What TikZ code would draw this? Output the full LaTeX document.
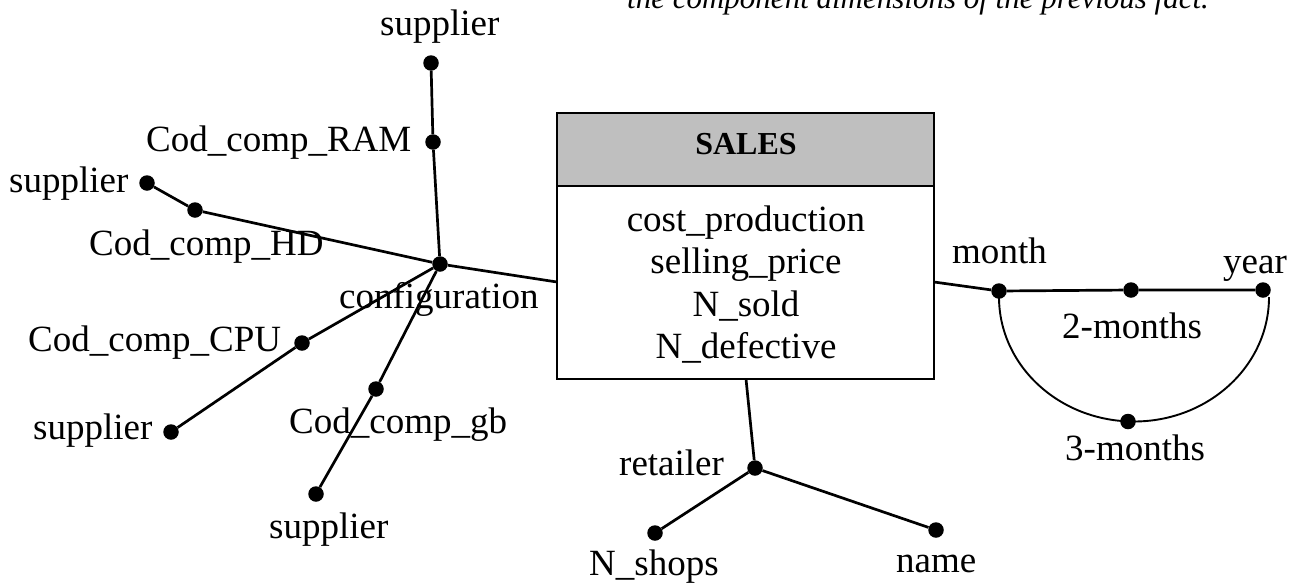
\documentclass[tikz,border=0pt]{standalone}
\usepackage{fontspec}
\setmainfont{Liberation Serif}
\begin{document}
\begin{tikzpicture}[x=1pt,y=-1pt,
  dot/.style={circle,fill=black,inner sep=0pt,minimum size=15.5pt},
  lbl/.style={inner sep=0pt,anchor=base west,font=\fontsize{37}{42}\selectfont},
  attr/.style={inner sep=0pt,anchor=base,font=\fontsize{37}{42}\selectfont},
  conn/.style={line width=2.7pt},
  arcline/.style={line width=1.9pt}]
\useasboundingbox (0,0) rectangle (1303,584);

% cut-off note at the top
\node[inner sep=0pt,anchor=base west,font=\itshape\fontsize{31}{36}\selectfont] (note) at (627,8.5) {the component dimensions of the previous fact.};

% fact box
\node[inner sep=0pt,minimum width=377pt,minimum height=266pt] (sales) at (745.5,246) {};
\fill[fill=black!25] (557,113) rectangle (934,186);
\draw[line width=2pt] (557,113) rectangle (934,379);
\draw[line width=2pt] (557,186) -- (934,186);
\node[inner sep=0pt,anchor=base,font=\bfseries\fontsize{32}{36}\selectfont] (title) at (746,154) {SALES};
\node[attr] (m1) at (746,231) {cost\_production};
\node[attr] (m2) at (746,273) {selling\_price};
\node[attr] (m3) at (746,316) {N\_sold};
\node[attr] (m4) at (746,358) {N\_defective};

\coordinate (sW) at (557,282);
\coordinate (sE) at (934,282);
\coordinate (sS) at (746,379);

% configuration hierarchy
\node[dot] (config) at (440,264) {};
\node[dot] (ram) at (433,142) {};
\node[dot] (sup1) at (431,63) {};
\node[dot] (hd) at (195,210) {};
\node[dot] (sup2) at (147,183) {};
\node[dot] (cpu) at (302,343) {};
\node[dot] (sup3) at (171,432) {};
\node[dot] (gb) at (376,389) {};
\node[dot] (sup4) at (316,494) {};

\draw[conn] (sW) -- (config);
\draw[conn] (config) -- (ram) -- (sup1);
\draw[conn] (config) -- (hd) -- (sup2);
\draw[conn] (config) -- (cpu) -- (sup3);
\draw[conn] (config) -- (gb) -- (sup4);

\node[lbl] (tsup1) at (380,35) {supplier};
\node[lbl] (tram) at (146,151) {Cod\_comp\_RAM};
\node[lbl] (tsup2) at (9,192) {supplier};
\node[lbl] (thd) at (89,255) {Cod\_comp\_HD};
\node[lbl] (tconfig) at (339,308) {configuration};
\node[lbl] (tcpu) at (28,351) {Cod\_comp\_CPU};
\node[lbl] (tsup3) at (33,439) {supplier};
\node[lbl] (tgb) at (289,433) {Cod\_comp\_gb};
\node[lbl] (tsup4) at (269,538) {supplier};

% retailer hierarchy
\node[dot] (ret) at (755,468) {};
\node[dot] (shops) at (655,533) {};
\node[dot] (name) at (936,530) {};
\draw[conn] (sS) -- (ret);
\draw[conn] (ret) -- (shops);
\draw[conn] (ret) -- (name);
\node[lbl] (tret) at (619,475) {retailer};
\node[lbl] (tshops) at (589,575) {N\_shops};
\node[lbl] (tname) at (896,572) {name};

% time hierarchy
\node[dot] (month) at (999,291) {};
\node[dot] (bim) at (1131,290) {};
\node[dot] (year) at (1263,290) {};
\node[dot] (trim) at (1128,421.5) {};
\draw[conn] (sE) -- (month);
\draw[conn] (month) -- (bim) -- (year);
\draw[arcline] (999,297) arc[start angle=180,end angle=360,x radius=135pt,y radius=124.5pt];
\node[lbl] (tmonth) at (952,263) {month};
\node[lbl] (tbim) at (1062,338) {2-months};
\node[lbl] (tyear) at (1223,273) {year};
\node[lbl] (ttrim) at (1065,460) {3-months};
\end{tikzpicture}
\end{document}
